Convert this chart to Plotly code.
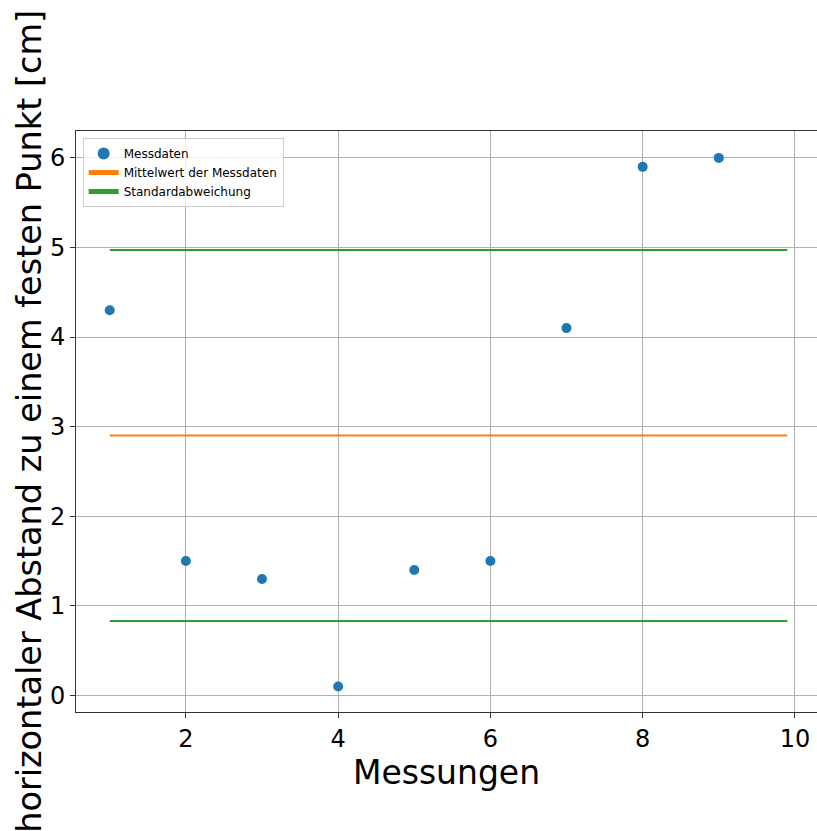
import numpy as np
import plotly.graph_objects as go

messung = [1, 2, 3, 4, 5, 6, 7, 8, 9]
abstand = [4.3, 1.5, 1.3, 0.1, 1.4, 1.5, 4.1, 5.9, 6.0]
x_span = [1.0, 9.9]
x_ticks = [2, 4, 6, 8, 10]
y_ticks = [0, 1, 2, 3, 4, 5, 6]

mean = float(np.mean(abstand))
std = float(np.std(abstand))

BLUE = "#1f77b4"
ORANGE = "#ff7f0e"
GREEN = "#2ca02c"

fig = go.Figure()
fig.add_trace(go.Scatter(x=messung, y=abstand, mode="markers", name="Messdaten",
                         marker=dict(color=BLUE, size=10)))
fig.add_trace(go.Scatter(x=x_span, y=[mean, mean], mode="lines",
                         name="Mittelwert der Messdaten",
                         line=dict(color=ORANGE, width=2)))
fig.add_trace(go.Scatter(x=x_span, y=[mean + std, mean + std], mode="lines",
                         name="Standardabweichung",
                         line=dict(color=GREEN, width=2)))
fig.add_trace(go.Scatter(x=x_span, y=[mean - std, mean - std], mode="lines",
                         showlegend=False,
                         line=dict(color=GREEN, width=2)))

fig.update_layout(
    width=817, height=831,
    margin=dict(l=76, r=0, t=131, b=119, autoexpand=False),
    paper_bgcolor="white", plot_bgcolor="white",
    font=dict(family="DejaVu Sans", color="black"),
    showlegend=True,
    legend=dict(x=0.009, y=0.988, xanchor="left", yanchor="top",
                font=dict(size=12), bgcolor="rgba(255,255,255,0.8)",
                bordercolor="#cccccc", borderwidth=1,
                itemsizing="constant", tracegroupgap=0),
    xaxis=dict(range=[0.557, 10.29], tickvals=x_ticks, ticks="outside",
               ticklen=5, tickcolor="#333", tickfont=dict(size=24),
               showgrid=True, gridcolor="#b0b0b0", gridwidth=1,
               zeroline=False, showline=True, linecolor="#333", linewidth=1,
               mirror=True, automargin=False,
               title=dict(text="Messungen", font=dict(size=33), standoff=0)),
    yaxis=dict(range=[-0.185, 6.3], tickvals=y_ticks, ticks="outside",
               ticklen=5, tickcolor="#333", tickfont=dict(size=24),
               showgrid=True, gridcolor="#b0b0b0", gridwidth=1,
               zeroline=False, showline=True, linecolor="#333", linewidth=1,
               automargin=False),
    annotations=[dict(text="horizontaler Abstand zu einem festen Punkt [cm]",
                      textangle=-90, xref="paper", yref="paper",
                      x=-0.063, y=0.5, xanchor="center", yanchor="middle",
                      showarrow=False, font=dict(size=33.5))],
)

fig.write_html("out.html", config={"displayModeBar": False},
               post_script="document.body.style.margin='0';document.body.style.overflow='hidden';")
